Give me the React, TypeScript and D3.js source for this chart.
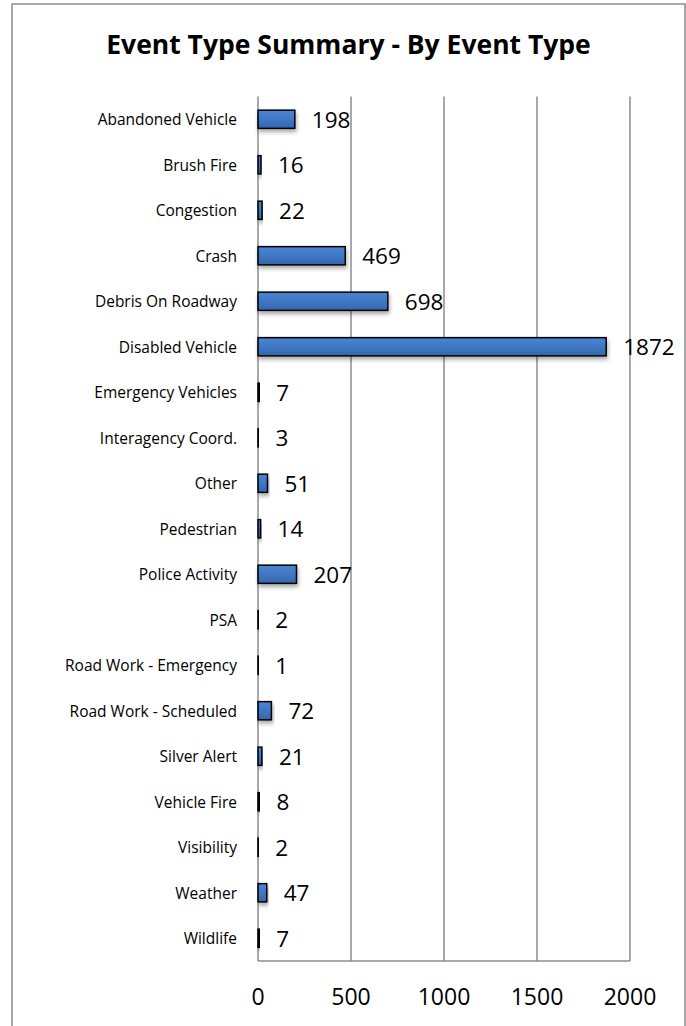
import React from "react";
import * as d3 from "d3";

const categories = [
  "Abandoned Vehicle",
  "Brush Fire",
  "Congestion",
  "Crash",
  "Debris On Roadway",
  "Disabled Vehicle",
  "Emergency Vehicles",
  "Interagency Coord.",
  "Other",
  "Pedestrian",
  "Police Activity",
  "PSA",
  "Road Work - Emergency",
  "Road Work - Scheduled",
  "Silver Alert",
  "Vehicle Fire",
  "Visibility",
  "Weather",
  "Wildlife",
];
const counts = [198, 16, 22, 469, 698, 1872, 7, 3, 51, 14, 207, 2, 1, 72, 21, 8, 2, 47, 7];
const xTicks = [0, 500, 1000, 1500, 2000];
const title = "Event Type Summary - By Event Type";

const W = 686;
const H = 1026;
const plot = { left: 258, right: 630, top: 96.5, bottom: 961 };
const FONT = "'Open Sans', 'Liberation Sans', sans-serif";

export default function App() {
  const x = d3.scaleLinear().domain([0, 2000]).range([plot.left, plot.right]);
  const y = d3
    .scaleBand<string>()
    .domain(categories)
    .range([plot.top, plot.bottom])
    .paddingInner(0.6)
    .paddingOuter(0.3);
  const bw = y.bandwidth();
  const grid = "#8c8c8c";

  return (
    <div style={{ position: "fixed", left: 0, top: 0, width: W, height: H, background: "#fff" }}>
      <svg width={W} height={H} style={{ display: "block" }}>
        <defs>
          <linearGradient id="barGrad" x1="0" y1="0" x2="0" y2="1">
            <stop offset="0" stopColor="#4b86d3" />
            <stop offset="0.5" stopColor="#3f77c3" />
            <stop offset="1" stopColor="#3566ad" />
          </linearGradient>
          <filter id="shadow" x="-10%" y="-30%" width="130%" height="190%">
            <feGaussianBlur in="SourceAlpha" stdDeviation="2" />
            <feOffset dx="1" dy="3" result="b" />
            <feComponentTransfer>
              <feFuncA type="linear" slope="0.35" />
            </feComponentTransfer>
            <feMerge>
              <feMergeNode />
              <feMergeNode in="SourceGraphic" />
            </feMerge>
          </filter>
        </defs>
        <rect x={12} y={4} width={673} height={H + 20} fill="#fff" stroke={grid} strokeWidth={1.5} />
        <text
          x={348.5}
          y={54}
          textAnchor="middle"
          fontFamily={FONT}
          fontWeight="bold"
          fontSize={26.5}
          fill="#000"
        >
          {title}
        </text>
        {xTicks.map((t) => (
          <line key={"g" + t} x1={x(t)} x2={x(t)} y1={plot.top} y2={plot.bottom} stroke={grid} strokeWidth={1.5} />
        ))}
        <line x1={plot.left} x2={plot.right} y1={plot.bottom} y2={plot.bottom} stroke={grid} strokeWidth={1.5} />
        {xTicks.map((t) => (
          <text
            key={"t" + t}
            x={x(t)}
            y={996}
            textAnchor="middle"
            dominantBaseline="central"
            fontFamily={FONT}
            fontSize={23}
            fill="#000"
          >
            {t}
          </text>
        ))}
        {categories.map((c, i) => {
          const yy = y(c)!;
          const v = counts[i];
          return (
            <g key={c}>
              <text
                x={237}
                y={yy + bw / 2}
                textAnchor="end"
                dominantBaseline="central"
                fontFamily={FONT}
                fontSize={15.5}
                fill="#000"
              >
                {c}
              </text>
              <rect
                x={x(0)}
                y={yy}
                width={Math.max(x(v) - x(0), 0.5)}
                height={bw}
                fill="url(#barGrad)"
                stroke="#000"
                strokeWidth={1.5}
                filter="url(#shadow)"
              />
              <text
                x={x(v) + 17}
                y={yy + bw / 2}
                dominantBaseline="central"
                fontFamily={FONT}
                fontSize={22.5}
                fill="#000"
              >
                {v}
              </text>
            </g>
          );
        })}
      </svg>
    </div>
  );
}
